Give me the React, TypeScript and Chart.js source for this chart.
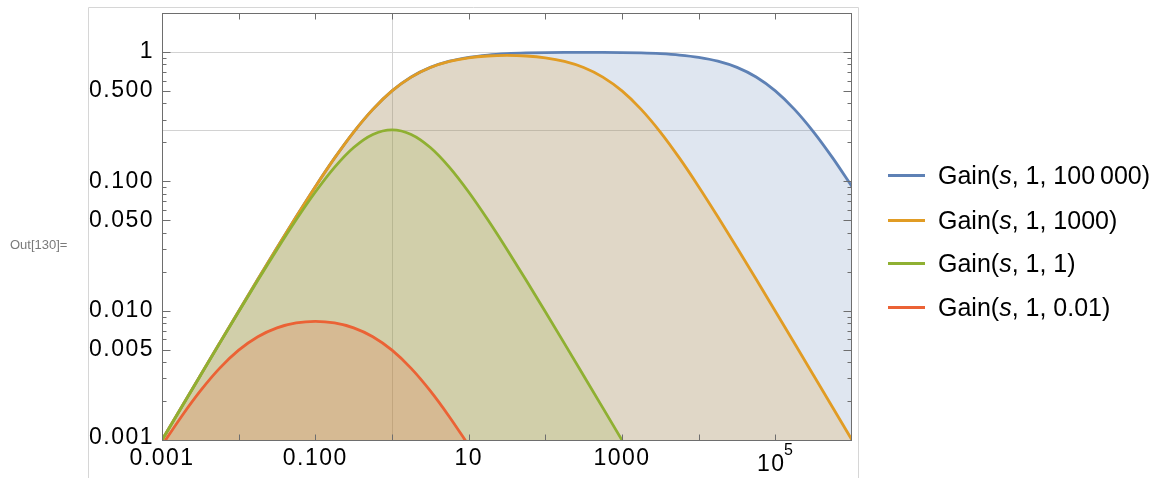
import React, { useEffect, useRef } from "react";
import { Chart, registerables } from "chart.js";
Chart.register(...registerables);

// sample positions (s), quarter-decade steps from 0.001 to 10^6
const sValues = [
  0.001, 0.0017783, 0.0031623, 0.0056234, 0.01, 0.017783, 0.031623, 0.056234,
  0.1, 0.17783, 0.31623, 0.56234, 1, 1.7783, 3.1623, 5.6234, 10, 17.783, 31.623,
  56.234, 100, 177.83, 316.23, 562.34, 1000, 1778.3, 3162.3, 5623.4, 10000,
  17783, 31623, 56234, 100000, 177830, 316230, 562340, 1000000,
];

const gain100000 = [
  0.000999, 0.001776, 0.003153, 0.005592, 0.009901, 0.01747, 0.03065, 0.05324,
  0.09091, 0.151, 0.2403, 0.3599, 0.5, 0.6401, 0.7597, 0.849, 0.909, 0.9466,
  0.969, 0.982, 0.9891, 0.9926, 0.9937, 0.9926, 0.9891, 0.982, 0.969, 0.9466,
  0.909, 0.849, 0.7597, 0.6401, 0.5, 0.3599, 0.2403, 0.151, 0.09091,
];
const gain1000 = [
  0.000999, 0.001775, 0.003152, 0.005592, 0.009901, 0.01747, 0.03065, 0.05324,
  0.0909, 0.151, 0.2402, 0.3597, 0.4995, 0.6389, 0.7574, 0.8443, 0.9001, 0.9302,
  0.9396, 0.9302, 0.9001, 0.8443, 0.7574, 0.6389, 0.4995, 0.3597, 0.2402, 0.151,
  0.0909, 0.05324, 0.03065, 0.01747, 0.009901, 0.005592, 0.003152, 0.001775,
  0.000999,
];
const gain1 = [
  0.000998, 0.001772, 0.003142, 0.005561, 0.009803, 0.01717, 0.02971, 0.05041,
  0.08264, 0.1282, 0.1825, 0.2304, 0.25, 0.2304, 0.1825, 0.1282, 0.08264,
  0.05041, 0.02971, 0.01717, 0.009803, 0.005561, 0.003142, 0.001772, 0.000998,
];
const gain001 = [
  0.000908, 0.001507, 0.002395, 0.003579, 0.00495, 0.006289, 0.007365, 0.008038,
  0.008264, 0.008038, 0.007365, 0.006289, 0.00495, 0.003579, 0.002395, 0.001507,
  0.000908,
];

const seriesLabels = ["100\u2009000", "1000", "1", "0.01"];
const seriesColors = ["#5E81B5", "#E19C24", "#8FB032", "#EB6235"];
const seriesFills = [
  "rgba(94,129,181,0.2)",
  "rgba(225,156,36,0.2)",
  "rgba(143,176,50,0.2)",
  "rgba(235,98,53,0.2)",
];
const seriesValues = [gain100000, gain1000, gain1, gain001];

const xTickValues = [0.001, 0.1, 10, 1000, 100000];
const xTickLabels = ["0.001", "0.100", "10", "1000", "10^5"];
const yTickValues = [1, 0.5, 0.1, 0.05, 0.01, 0.005, 0.001];
const yTickLabels = ["1", "0.500", "0.100", "0.050", "0.010", "0.005", "0.001"];
const xGridValues = [1];
const yGridValues = [1, 0.25];

const W = 1154;
const H = 478;

const framePlugin = {
  id: "mmaFrame",
  beforeDatasetsDraw(chart: any) {
    const { ctx, chartArea: a, scales } = chart;
    const x = scales.x;
    const y = scales.y;
    ctx.save();
    // outer cell box
    ctx.strokeStyle = "#d6d6d6";
    ctx.lineWidth = 1;
    ctx.beginPath();
    ctx.moveTo(88.5, H);
    ctx.lineTo(88.5, 7.5);
    ctx.lineTo(858.5, 7.5);
    ctx.lineTo(858.5, H);
    ctx.stroke();
    // grid lines
    ctx.strokeStyle = "#d2d2d2";
    for (const g of yGridValues) {
      const py = Math.round(y.getPixelForValue(g)) + 0.5;
      ctx.beginPath();
      ctx.moveTo(a.left, py);
      ctx.lineTo(a.right, py);
      ctx.stroke();
    }
    for (const g of xGridValues) {
      const px = Math.round(x.getPixelForValue(g)) + 0.5;
      ctx.beginPath();
      ctx.moveTo(px, a.top);
      ctx.lineTo(px, a.bottom);
      ctx.stroke();
    }
    ctx.restore();
  },
  afterDatasetsDraw(chart: any) {
    const { ctx, chartArea: a, scales } = chart;
    const x = scales.x;
    const y = scales.y;
    ctx.save();
    ctx.strokeStyle = "#6e6e6e";
    ctx.lineWidth = 1;
    const L = Math.round(a.left) + 0.5;
    const R = Math.round(a.right) - 0.5;
    const T = Math.round(a.top) + 0.5;
    const B = Math.round(a.bottom) + 0.5;
    ctx.strokeRect(L, T, R - L, B - T);
    ctx.beginPath();
    // y ticks (major + minor) on left and right
    for (let e = -3; e <= 0; e++) {
      for (let k = 1; k <= 9; k++) {
        const v = k * Math.pow(10, e);
        if (v > 1.0001) continue;
        const major = k === 1 || k === 5;
        const len = major ? 8 : 4;
        const py = Math.round(y.getPixelForValue(v)) + 0.5;
        ctx.moveTo(L, py);
        ctx.lineTo(L + len, py);
        ctx.moveTo(R, py);
        ctx.lineTo(R - len, py);
      }
    }
    // x ticks at decades, top and bottom
    for (let e = -2; e <= 5; e++) {
      const px = Math.round(x.getPixelForValue(Math.pow(10, e))) + 0.5;
      ctx.moveTo(px, B);
      ctx.lineTo(px, B - 6);
      ctx.moveTo(px, T);
      ctx.lineTo(px, T + 6);
    }
    ctx.stroke();

    // tick labels
    ctx.fillStyle = "#000";
    ctx.font = '23px "Liberation Sans", Arial, sans-serif';
    (ctx as any).letterSpacing = "1.5px";
    ctx.textBaseline = "middle";
    ctx.textAlign = "right";
    yTickValues.forEach((v, i) => {
      const py = y.getPixelForValue(v);
      ctx.fillText(yTickLabels[i], 154, v === 0.001 ? py - 2 : py);
    });
    ctx.textAlign = "center";
    xTickValues.forEach((v, i) => {
      const px = x.getPixelForValue(v);
      const lab = xTickLabels[i];
      if (lab.includes("^")) {
        const [base, sup] = lab.split("^");
        ctx.fillText(base, px - 4, 465);
        ctx.font = '16px "Liberation Sans", Arial, sans-serif';
        (ctx as any).letterSpacing = "0px";
        ctx.fillText(sup, px + 13, 451);
        ctx.font = '23px "Liberation Sans", Arial, sans-serif';
        (ctx as any).letterSpacing = "1.5px";
      } else {
        ctx.fillText(lab, px, 459);
      }
    });
    // cell label
    (ctx as any).letterSpacing = "0px";
    ctx.font = '13px "Liberation Sans", Arial, sans-serif';
    ctx.fillStyle = "#7a7a7a";
    ctx.textAlign = "left";
    ctx.fillText("Out[130]=", 10, 245);
    ctx.restore();
  },
};

export default function App() {
  const ref = useRef<HTMLCanvasElement>(null);
  useEffect(() => {
    if (!ref.current) return;
    const datasets = seriesValues.map((vals, i) => ({
      label: "Gain(s, 1, " + seriesLabels[i] + ")",
      data: vals.map((v, j) => ({ x: sValues[j], y: v })),
      borderColor: seriesColors[i],
      backgroundColor: seriesFills[i],
      borderWidth: 2.8,
      pointRadius: 0,
      fill: "start",
      cubicInterpolationMode: "monotone" as const,
      order: 4 - i,
    }));
    const chart = new Chart(ref.current, {
      type: "line",
      data: { datasets },
      options: {
        animation: false,
        responsive: false,
        layout: { padding: { left: 162, right: W - 852, top: 13, bottom: H - 440 } },
        scales: {
          x: { type: "logarithmic", min: 0.001, max: 1000000, display: false },
          y: { type: "logarithmic", min: 0.001, max: 2, display: false },
        },
        plugins: { legend: { display: false }, tooltip: { enabled: false } },
      },
      plugins: [framePlugin],
    });
    return () => chart.destroy();
  }, []);

  return (
    <div style={{ position: "fixed", left: 0, top: 0, width: W, height: H, background: "#fff" }}>
      <canvas ref={ref} width={W} height={H} style={{ position: "absolute", left: 0, top: 0 }} />
      {seriesLabels.map((lab, i) => (
        <div
          key={i}
          style={{
            position: "absolute",
            left: 888,
            top: [175, 220, 263.5, 307][i] - 15,
            height: 30,
            display: "flex",
            alignItems: "center",
            fontFamily: '"Liberation Sans", Arial, sans-serif',
            fontSize: 25,
            whiteSpace: "nowrap",
          }}
        >
          <span style={{ display: "inline-block", width: 37, height: 3, background: seriesColors[i], marginRight: 13 }} />
          <span>
            Gain(<i>s</i>, 1, {lab})
          </span>
        </div>
      ))}
    </div>
  );
}
